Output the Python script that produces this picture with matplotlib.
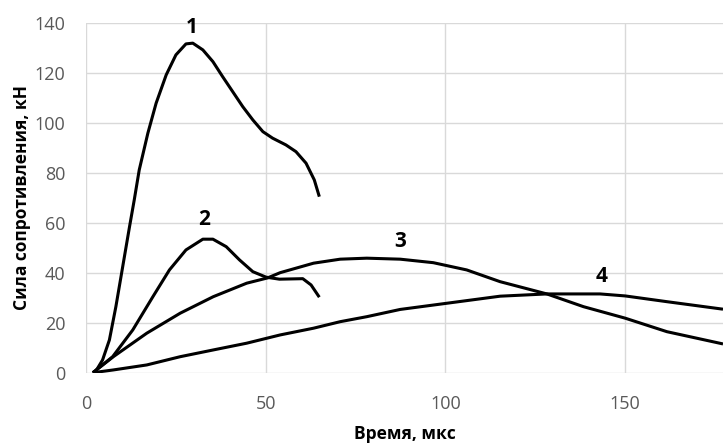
import matplotlib
matplotlib.use("Agg")
import matplotlib.pyplot as plt

plt.rcParams['font.family'] = ['Open Sans', 'DejaVu Sans']

# Curve data (time, mks ; force, kN)
t1 = [1.9, 2.8, 4.6, 6.5, 8.3, 10.2, 12.1, 13.4, 14.8, 17.2, 19.5, 22.3, 25.0, 27.8, 29.7, 32.5, 35.3,
      38.0, 40.8, 43.6, 46.4, 49.2, 51.9, 55.6, 58.4, 61.2, 63.5, 64.9]
f1 = [0.0, 0.8, 5.1, 13.1, 26.4, 42.4, 58.4, 69.0, 81.1, 95.8, 107.8, 119.1, 127.1, 131.5, 131.8, 129.1, 124.4,
      118.4, 112.4, 106.4, 101.1, 96.4, 93.8, 91.1, 88.4, 83.8, 77.1, 70.4]

t2 = [1.9, 7.4, 13.0, 18.6, 23.2, 27.8, 32.5, 35.3, 39.0, 42.7, 46.4, 50.1, 53.8, 60.3, 62.6, 64.9]
f2 = [0.0, 6.4, 17.1, 30.4, 41.1, 49.1, 53.4, 53.4, 50.4, 45.1, 40.4, 38.2, 37.4, 37.6, 35.1, 30.2]

t3 = [1.9, 7.6, 16.9, 26.2, 35.4, 44.7, 50.5, 54.0, 63.3, 70.7, 78.1, 87.4, 96.6, 105.9, 115.2, 128.2,
      138.4, 150.0, 161.6, 177.2]
f3 = [0.0, 6.4, 15.8, 23.8, 30.4, 35.8, 37.9, 40.0, 43.8, 45.4, 45.8, 45.4, 44.0, 41.1, 36.4, 31.5,
      26.4, 21.8, 16.4, 11.5]

t4 = [1.9, 7.6, 16.9, 26.2, 35.4, 44.7, 54.0, 63.3, 70.7, 78.1, 87.4, 100.0, 115.2, 128.2, 143.0, 150.0,
      161.6, 177.2]
f4 = [0.0, 1.1, 3.1, 6.4, 9.1, 11.8, 15.1, 17.8, 20.4, 22.4, 25.3, 27.7, 30.6, 31.5, 31.5, 30.7,
      28.4, 25.4]

labels = ['1', '2', '3', '4']
label_pos_x = [29.5, 32.9, 87.4, 143.5]
label_pos_y = [138.2, 61.1, 52.4, 38.4]

x_ticks = [0, 50, 100, 150]
y_ticks = [0, 20, 40, 60, 80, 100, 120, 140]

fig = plt.figure(figsize=(7.23, 4.44), dpi=100)
ax = fig.add_axes([0.119, 0.1606, 0.881, 0.7884])

for t, f in [(t1, f1), (t2, f2), (t3, f3), (t4, f4)]:
    ax.plot(t, f, color='black', lw=2.2, solid_capstyle='butt', solid_joinstyle='round', zorder=3)

for lab, lx, ly in zip(labels, label_pos_x, label_pos_y):
    ax.text(lx, ly, lab, fontsize=15, fontweight='bold', ha='center', va='center', color='black')

ax.set_xlim(0, 177.2)
ax.set_ylim(0, 140)
ax.set_xticks(x_ticks)
ax.set_yticks(y_ticks)
ax.grid(True, color='#d9d9d9', lw=1.0)
ax.set_axisbelow(True)
for s in ax.spines.values():
    s.set_visible(False)
ax.tick_params(length=0, labelsize=13, colors='#595959')
ax.tick_params(axis='x', pad=16)
ax.tick_params(axis='y', pad=15)

ax.set_xlabel('Время, мкс', fontsize=12.5, fontweight='bold', color='black')
ax.xaxis.set_label_coords(0.5, -0.15)
ax.set_ylabel('Сила сопротивления, кН', fontsize=12.5, fontweight='bold', color='black')
ax.yaxis.set_label_coords(-0.086, 0.5)

fig.savefig('out.png', dpi=100)
